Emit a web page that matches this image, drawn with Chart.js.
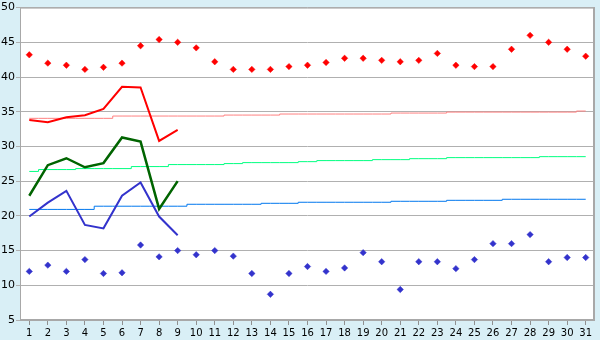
<!DOCTYPE html>
<html><head><meta charset="utf-8">
<script src="https://cdn.jsdelivr.net/npm/chart.js@4/dist/chart.umd.min.js"></script>
<style>html,body{margin:0;padding:0;background:#d9eff6;}canvas{display:block;}</style>
</head><body>
<canvas id="c" width="600" height="340"></canvas>
<script>
const days = Array.from({length:31},(_,i)=>String(i+1));
const maxTemp  = [33.8,33.5,34.2,34.5,35.4,38.6,38.5,30.8,32.4];
const meanTemp = [22.9,27.3,28.3,27.0,27.6,31.3,30.7,21.0,25.0];
const minTemp  = [19.9,21.9,23.6,18.7,18.2,22.9,24.8,19.9,17.2];
const recordMax = [43.2,42.0,41.7,41.1,41.4,42.0,44.5,45.4,45.0,44.2,42.2,41.1,41.1,41.1,41.5,41.7,42.1,42.7,42.7,42.4,42.2,42.4,43.4,41.7,41.5,41.5,44.0,46.0,45.0,44.0,43.0];
const recordMin = [12.0,12.9,12.0,13.7,11.7,11.8,15.8,14.1,15.0,14.4,15.0,14.2,11.7,8.7,11.7,12.7,12.0,12.5,14.7,13.4,9.4,13.4,13.4,12.4,13.7,16.0,16.0,17.3,13.4,14.0,14.0];
const normalMax = [34.05,34.05,34.05,34.05,34.05,34.38,34.38,34.38,34.38,34.38,34.38,34.52,34.52,34.52,34.67,34.67,34.67,34.67,34.67,34.67,34.81,34.81,34.81,34.95,34.95,34.95,34.95,34.95,34.95,34.95,35.1];
const normalMean = [26.4,26.67,26.67,26.81,26.81,26.81,27.1,27.1,27.39,27.39,27.39,27.53,27.67,27.67,27.67,27.81,27.96,27.96,27.96,28.1,28.1,28.24,28.24,28.39,28.39,28.39,28.39,28.39,28.53,28.53,28.53];
const normalMin = [20.93,20.93,20.93,20.93,21.39,21.39,21.39,21.39,21.39,21.67,21.67,21.67,21.67,21.81,21.81,21.96,21.96,21.96,21.96,21.96,22.1,22.1,22.1,22.24,22.24,22.24,22.39,22.39,22.39,22.39,22.39];
const yTicks = [5,10,15,20,25,30,35,40,45,50];

const bgPlugin = {
  id:'bg',
  beforeDraw(chart){
    const {ctx, chartArea:a} = chart;
    ctx.save();
    ctx.fillStyle = '#d9eff6';
    ctx.fillRect(0,0,chart.width,chart.height);
    ctx.fillStyle = '#ffffff';
    ctx.fillRect(a.left,a.top,a.right-a.left,a.bottom-a.top);
    ctx.restore();
  },
  afterDraw(chart){
    const {ctx, chartArea:a} = chart;
    ctx.save();
    ctx.strokeStyle = '#a8a8a8';
    ctx.lineWidth = 1;
    ctx.beginPath();
    ctx.moveTo(a.left+0.5, a.bottom); ctx.lineTo(a.left+0.5, a.top+0.5); ctx.lineTo(a.right, a.top+0.5);
    ctx.stroke();
    ctx.lineWidth = 2;
    ctx.beginPath();
    ctx.moveTo(a.right-1, a.top); ctx.lineTo(a.right-1, a.bottom+1);
    ctx.stroke();
    ctx.beginPath();
    ctx.moveTo(a.left, a.bottom); ctx.lineTo(a.right, a.bottom);
    ctx.stroke();
    ctx.restore();
  }
};

const pad = n => n;
new Chart(document.getElementById('c'), {
  type:'line',
  data:{
    labels: days,
    datasets:[
      {data:maxTemp, borderColor:'#ff0000', borderWidth:2, pointRadius:0, tension:0, order:1},
      {data:meanTemp, borderColor:'#006400', borderWidth:2.5, pointRadius:0, tension:0, order:1},
      {data:minTemp, borderColor:'#3333cc', borderWidth:2, pointRadius:0, tension:0, order:1},
      {data:normalMax, borderColor:'#ff8080', borderWidth:1, pointRadius:0, stepped:'middle', order:2},
      {data:normalMean, borderColor:'#00ff80', borderWidth:1, pointRadius:0, stepped:'middle', order:2},
      {data:normalMin, borderColor:'#0077ee', borderWidth:1, pointRadius:0, stepped:'middle', order:2},
      {data:recordMax, showLine:false, pointStyle:'rectRot', pointRadius:3.2, pointBackgroundColor:'#ff0000', pointBorderColor:'#ff0000', pointBorderWidth:0.5, order:0},
      {data:recordMin, showLine:false, pointStyle:'rectRot', pointRadius:3.2, pointBackgroundColor:'#3333cc', pointBorderColor:'#3333cc', pointBorderWidth:0.5, order:0}
    ]
  },
  options:{
    responsive:false,
    animation:false,
    devicePixelRatio:1,
    layout:{padding:{top:5,right:5,left:0,bottom:0}},
    plugins:{legend:{display:false}, title:{display:false}, tooltip:{enabled:false}},
    scales:{
      x:{
        offset:true,
        grid:{display:true, drawOnChartArea:false, drawTicks:true, tickLength:5, offset:false, color:'#909090'},
        border:{display:false},
        ticks:{color:'#000', font:{family:'DejaVu Sans', size:10}, padding:2, maxRotation:0, autoSkip:false},
        afterFit(s){ s.height = 20; }
      },
      y:{
        min:5, max:50,
        afterBuildTicks(s){ s.ticks = yTicks.map(v=>({value:v})); },
        grid:{color:'#b0b0b0', lineWidth:1, tickLength:4, drawTicks:true},
        border:{display:false},
        ticks:{color:'#000', font:{family:'DejaVu Sans', size:11}, padding:1},
        afterFit(s){ s.width = 20; }
      }
    }
  },
  plugins:[bgPlugin]
});
</script>
</body></html>
